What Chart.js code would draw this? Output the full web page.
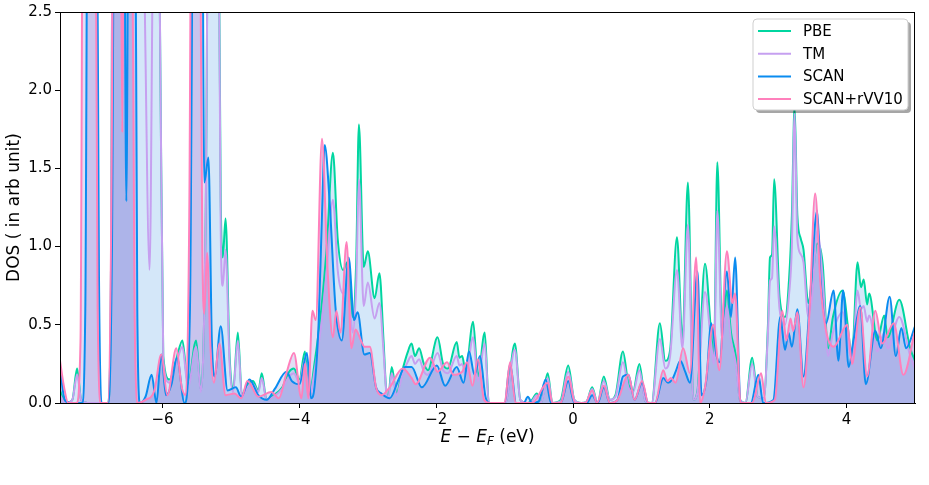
<!DOCTYPE html>
<html lang="en">
<head>
<meta charset="UTF-8">
<title>DOS comparison</title>
<script src="https://cdn.jsdelivr.net/npm/chart.js"></script>
<style>
  html, body { margin: 0; padding: 0; background: #fff; }
  #wrap { position: relative; width: 929px; height: 485px; }
</style>
</head>
<body>
<div id="wrap"><canvas id="dosChart"></canvas></div>
<script>
// [E - E_F (eV), DOS]
const pbe = [[-7.5,0.08],[-7.42,0],[-7.32,0.02],[-7.25,0.22],[-7.19,0.02],[-7.1,0],[-6.8,0],[-6.76,0.5],[-6.72,4],[-6.55,4],[-6.4,4],[-6.25,4],[-6.1,4],[-6.04,2.5],[-5.99,0.3],[-5.9,0.15],[-5.8,0.28],[-5.71,0.4],[-5.63,0.12],[-5.51,0.4],[-5.44,0.08],[-5.37,1.2],[-5.32,4],[-5.2,4],[-5.15,1.3],[-5.12,0.93],[-5.08,1.18],[-5.02,0.3],[-4.97,0.08],[-4.9,0.45],[-4.84,0.05],[-4.76,0.12],[-4.68,0.14],[-4.6,0.08],[-4.55,0.19],[-4.48,0.02],[-4.38,0.05],[-4.25,0.1],[-4.15,0.2],[-4.08,0.22],[-4.0,0.15],[-3.92,0.33],[-3.86,0.04],[-3.78,0.25],[-3.68,0.6],[-3.6,1.0],[-3.51,1.6],[-3.44,1.05],[-3.36,0.85],[-3.3,0.9],[-3.22,0.55],[-3.17,0.9],[-3.13,1.78],[-3.06,0.87],[-3.0,0.97],[-2.9,0.67],[-2.83,0.83],[-2.77,0.4],[-2.73,0.08],[-2.7,0.04],[-2.65,0.23],[-2.58,0.06],[-2.5,0.2],[-2.42,0.32],[-2.36,0.38],[-2.31,0.3],[-2.25,0.35],[-2.18,0.25],[-2.12,0.21],[-1.98,0.42],[-1.9,0.25],[-1.83,0.22],[-1.7,0.39],[-1.66,0.29],[-1.62,0.3],[-1.57,0.2],[-1.46,0.52],[-1.39,0.17],[-1.29,0.45],[-1.23,0],[-0.99,0],[-0.85,0.38],[-0.77,0.02],[-0.66,0],[-0.6,0.02],[-0.53,0.06],[-0.47,0],[-0.37,0.19],[-0.3,0],[-0.18,0.02],[-0.07,0.24],[0.02,0.02],[0.12,0],[0.2,0.01],[0.28,0.1],[0.36,0],[0.45,0.17],[0.54,0.02],[0.62,0.05],[0.73,0.33],[0.81,0.12],[0.88,0.08],[0.97,0.25],[1.06,0.01],[1.15,0],[1.27,0.51],[1.35,0.27],[1.42,0.34],[1.52,1.06],[1.6,0.4],[1.68,1.41],[1.76,0.02],[1.82,0.08],[1.93,0.89],[2.02,0.45],[2.06,0.3],[2.11,1.54],[2.18,0.45],[2.25,0.72],[2.31,0.45],[2.38,0.3],[2.44,0.02],[2.52,0],[2.62,0.29],[2.7,0.04],[2.79,0.03],[2.85,0.5],[2.88,0.93],[2.91,0.95],[2.94,1.43],[3.02,0.68],[3.1,0.55],[3.16,0.8],[3.2,1.2],[3.24,1.9],[3.28,1.2],[3.33,1.05],[3.37,0.98],[3.44,0.64],[3.5,0.8],[3.57,1.02],[3.65,0.89],[3.73,0.35],[3.8,0.55],[3.94,0.72],[4.08,0.32],[4.16,0.9],[4.21,0.74],[4.25,0.79],[4.3,0.63],[4.33,0.7],[4.45,0.4],[4.55,0.56],[4.6,0.42],[4.77,0.66],[4.93,0.35],[5.0,0.27]];

const tm = [[-7.5,0.05],[-7.42,0],[-7.32,0.02],[-7.25,0.18],[-7.19,0.02],[-7.1,0],[-6.8,0],[-6.76,0.5],[-6.72,4],[-6.55,4],[-6.4,4],[-6.28,3],[-6.19,0.85],[-6.14,3],[-6.1,4],[-6.04,2.5],[-5.99,0.27],[-5.9,0.13],[-5.8,0.25],[-5.71,0.36],[-5.63,0.1],[-5.51,0.36],[-5.44,0.07],[-5.37,1.2],[-5.32,4],[-5.2,4],[-5.15,1.1],[-5.12,0.75],[-5.08,0.98],[-5.02,0.25],[-4.97,0.07],[-4.9,0.4],[-4.84,0.04],[-4.76,0.1],[-4.68,0.12],[-4.6,0.07],[-4.55,0.16],[-4.48,0.02],[-4.38,0.04],[-4.25,0.09],[-4.15,0.17],[-4.08,0.19],[-4.0,0.13],[-3.92,0.28],[-3.86,0.03],[-3.78,0.2],[-3.68,0.5],[-3.6,0.85],[-3.51,1.3],[-3.44,0.85],[-3.36,0.7],[-3.3,0.75],[-3.22,0.45],[-3.17,0.75],[-3.13,1.43],[-3.06,0.62],[-3.0,0.77],[-2.9,0.54],[-2.83,0.64],[-2.77,0.33],[-2.73,0.07],[-2.7,0.03],[-2.65,0.19],[-2.58,0.05],[-2.5,0.17],[-2.42,0.26],[-2.36,0.3],[-2.31,0.25],[-2.25,0.28],[-2.18,0.2],[-2.12,0.18],[-1.98,0.32],[-1.9,0.21],[-1.83,0.19],[-1.7,0.3],[-1.66,0.24],[-1.62,0.25],[-1.57,0.17],[-1.46,0.42],[-1.39,0.14],[-1.29,0.38],[-1.23,0],[-0.99,0],[-0.85,0.34],[-0.77,0.02],[-0.66,0],[-0.6,0.01],[-0.53,0.05],[-0.47,0],[-0.37,0.16],[-0.3,0],[-0.18,0.01],[-0.07,0.2],[0.02,0.02],[0.12,0],[0.2,0.01],[0.28,0.09],[0.36,0],[0.45,0.14],[0.54,0.02],[0.62,0.04],[0.73,0.26],[0.81,0.1],[0.88,0.07],[0.97,0.21],[1.06,0.01],[1.15,0],[1.27,0.41],[1.35,0.22],[1.42,0.3],[1.52,0.85],[1.6,0.35],[1.68,1.14],[1.76,0.02],[1.82,0.07],[1.93,0.71],[2.02,0.38],[2.06,0.25],[2.11,1.23],[2.18,0.4],[2.25,0.62],[2.31,0.4],[2.38,0.25],[2.44,0.02],[2.52,0],[2.62,0.25],[2.7,0.04],[2.79,0.03],[2.85,0.45],[2.88,0.78],[2.91,0.8],[2.94,1.13],[3.02,0.6],[3.1,0.5],[3.16,0.7],[3.2,1.0],[3.24,1.85],[3.28,1.05],[3.33,0.95],[3.37,0.9],[3.44,0.55],[3.5,0.7],[3.57,1.1],[3.65,0.8],[3.73,0.3],[3.8,0.45],[3.94,0.58],[4.08,0.27],[4.16,0.72],[4.21,0.6],[4.25,0.62],[4.3,0.52],[4.33,0.56],[4.45,0.33],[4.55,0.45],[4.6,0.35],[4.77,0.55],[4.93,0.3],[5.0,0.22]];

const scan = [[-7.5,0.22],[-7.43,0.02],[-7.35,0],[-7.18,0],[-7.13,0.6],[-7.09,4],[-6.97,4],[-6.93,0.8],[-6.88,0],[-6.8,0],[-6.74,1],[-6.7,4],[-6.57,4],[-6.53,1.29],[-6.49,4],[-6.41,4],[-6.37,0.6],[-6.33,0],[-6.25,0.04],[-6.16,0.18],[-6.09,0],[-6.02,0.31],[-5.95,0.05],[-5.87,0.12],[-5.79,0.29],[-5.68,0],[-5.6,0.6],[-5.54,4],[-5.43,4],[-5.39,1.41],[-5.33,1.57],[-5.28,0.4],[-5.24,0.17],[-5.15,0.49],[-5.05,0.08],[-4.93,0.1],[-4.85,0.04],[-4.73,0.15],[-4.6,0.05],[-4.48,0.02],[-4.36,0.09],[-4.19,0.2],[-4.11,0.14],[-4.0,0.12],[-3.89,0.32],[-3.83,0.03],[-3.78,0.1],[-3.72,0.5],[-3.67,1.2],[-3.63,1.65],[-3.56,1.3],[-3.47,0.6],[-3.38,0.4],[-3.28,0.93],[-3.2,0.53],[-3.15,0.58],[-3.05,0.31],[-2.97,0.32],[-2.88,0.1],[-2.8,0.06],[-2.68,0.03],[-2.55,0.15],[-2.46,0.23],[-2.36,0.23],[-2.21,0.1],[-1.99,0.24],[-1.87,0.11],[-1.7,0.23],[-1.6,0.13],[-1.52,0.33],[-1.44,0.18],[-1.36,0.3],[-1.28,0.04],[-1.22,0],[-1.0,0],[-0.92,0.25],[-0.83,0],[-0.72,0],[-0.66,0.04],[-0.6,0],[-0.5,0.01],[-0.4,0.15],[-0.32,0],[-0.18,0],[-0.07,0.14],[0.02,0],[0.2,0],[0.28,0.05],[0.36,0],[0.45,0.1],[0.54,0],[0.65,0.02],[0.73,0.17],[0.81,0.18],[0.9,0.02],[1.01,0.13],[1.1,0],[1.2,0],[1.32,0.16],[1.39,0.13],[1.45,0.15],[1.5,0.2],[1.57,0.27],[1.64,0.2],[1.71,0.13],[1.82,0.84],[1.88,0.05],[1.95,0.15],[2.02,0.51],[2.1,0.3],[2.14,0.26],[2.25,0.84],[2.31,0.55],[2.37,0.93],[2.45,0],[2.6,0],[2.71,0.18],[2.78,0],[2.93,0.02],[3.03,0.55],[3.1,0.34],[3.15,0.45],[3.2,0.36],[3.28,0.6],[3.37,0.17],[3.47,0.7],[3.57,1.23],[3.62,0.8],[3.7,0.51],[3.81,0.72],[3.88,0.27],[3.95,0.72],[4.03,0.23],[4.1,0.4],[4.2,0.62],[4.28,0.12],[4.42,0.46],[4.5,0.35],[4.63,0.68],[4.72,0.3],[4.8,0.48],[4.87,0.35],[5.0,0.49]];

const scanVdw = [[-7.5,0.27],[-7.44,0.1],[-7.38,0],[-7.26,0],[-7.2,0.4],[-7.16,4],[-6.99,4],[-6.95,0.6],[-6.9,0],[-6.8,0],[-6.75,1.2],[-6.71,4],[-6.62,4],[-6.59,1.73],[-6.56,4],[-6.46,4],[-6.41,0.6],[-6.36,0],[-6.25,0.02],[-6.12,0.08],[-6.02,0.31],[-5.93,0.05],[-5.8,0.35],[-5.72,0.1],[-5.66,0.05],[-5.61,1.2],[-5.57,4],[-5.47,4],[-5.42,1.0],[-5.39,0.57],[-5.35,0.96],[-5.3,0.35],[-5.25,0.13],[-5.17,0.38],[-5.08,0.05],[-4.95,0.06],[-4.85,0.03],[-4.76,0.14],[-4.6,0.04],[-4.41,0.07],[-4.3,0.03],[-4.19,0.19],[-4.08,0.32],[-3.97,0.03],[-3.92,0.25],[-3.87,0.03],[-3.81,0.59],[-3.76,0.53],[-3.67,1.69],[-3.59,0.87],[-3.51,0.42],[-3.46,0.59],[-3.4,0.45],[-3.31,1.03],[-3.24,0.35],[-3.18,0.47],[-3.1,0.4],[-3.05,0.36],[-2.97,0.36],[-2.88,0.1],[-2.8,0.05],[-2.68,0.1],[-2.49,0.22],[-2.36,0.16],[-2.3,0.12],[-2.09,0.29],[-1.98,0.2],[-1.84,0.26],[-1.75,0.18],[-1.62,0.2],[-1.55,0.26],[-1.47,0.11],[-1.39,0.28],[-1.3,0.02],[-1.22,0],[-1.0,0],[-0.92,0.26],[-0.84,0],[-0.6,0],[-0.37,0.13],[-0.3,0],[-0.18,0],[-0.07,0.17],[0.03,0],[0.18,0],[0.28,0.08],[0.35,0],[0.45,0.11],[0.54,0],[0.65,0.02],[0.81,0.18],[0.9,0.02],[1.01,0.14],[1.1,0],[1.2,0],[1.32,0.21],[1.38,0.14],[1.43,0.16],[1.5,0.13],[1.61,0.35],[1.71,0.19],[1.8,0.93],[1.86,0],[1.93,0.1],[2.05,0.5],[2.14,0.21],[2.25,0.97],[2.33,0.64],[2.37,0.7],[2.45,0],[2.62,0],[2.75,0.19],[2.82,0],[2.95,0.02],[3.06,0.59],[3.12,0.4],[3.18,0.54],[3.22,0.46],[3.28,0.58],[3.37,0.1],[3.46,0.6],[3.54,1.34],[3.62,0.75],[3.7,0.46],[3.81,0.36],[4.01,0.5],[4.08,0.25],[4.2,0.61],[4.3,0.17],[4.42,0.59],[4.52,0.38],[4.69,0.51],[4.83,0.18],[5.0,0.46]];

const seriesNames = ['PBE', 'TM', 'SCAN', 'SCAN+rVV10'];
const xTicks = [-6, -4, -2, 0, 2, 4];
const yTicks = [0, 0.5, 1.0, 1.5, 2.0, 2.5];

const lineColors = ['rgb(0,214,160)', 'rgb(198,160,240)', 'rgb(10,140,240)', 'rgb(255,128,188)'];
const FONT = '"DejaVu Sans", "Liberation Sans", sans-serif';

Chart.defaults.font.family = FONT;
Chart.defaults.color = '#000';

function toPoints(arr) {
    return arr.map(p => ({x: p[0], y: p[1]}));
}

function makeDataset(i, arr, fillColor, order) {
    return {
        label: seriesNames[i],
        data: toPoints(arr),
        borderColor: lineColors[i],
        borderWidth: 2,
        pointRadius: 0,
        cubicInterpolationMode: 'monotone',
        fill: fillColor ? 'origin' : false,
        backgroundColor: fillColor || 'transparent',
        order: order
    };
}

// spines, x label with math italics, matplotlib style legend
const decorations = {
    id: 'decorations',
    afterDatasetsDraw(chart) {
        const {ctx, chartArea: a} = chart;
        ctx.save();
        ctx.strokeStyle = '#000';
        ctx.lineWidth = 1;
        ctx.strokeRect(Math.round(a.left) + 0.5, Math.round(a.top) + 0.5,
            Math.round(a.right - a.left) - 1, Math.round(a.bottom - a.top));
        ctx.restore();
    },
    afterDraw(chart) {
        const {ctx, chartArea: a} = chart;
        ctx.save();

        // x axis title: E - E_F (eV)
        const size = 17;
        const parts = [
            {t: 'E', f: `italic ${size}px ${FONT}`, dy: 0},
            {t: ' \u2212 ', f: `${size}px ${FONT}`, dy: 0},
            {t: 'E', f: `italic ${size}px ${FONT}`, dy: 0},
            {t: 'F', f: `italic ${Math.round(size * 0.7)}px ${FONT}`, dy: 4},
            {t: ' (eV)', f: `${size}px ${FONT}`, dy: 0}
        ];
        let total = 0;
        parts.forEach(p => { ctx.font = p.f; p.w = ctx.measureText(p.t).width; total += p.w; });
        let x = (a.left + a.right) / 2 - total / 2;
        const y = a.bottom + 35;
        ctx.fillStyle = '#000';
        ctx.textBaseline = 'middle';
        ctx.textAlign = 'left';
        parts.forEach(p => { ctx.font = p.f; ctx.fillText(p.t, x, y + p.dy); x += p.w; });

        // legend box
        const bw = 155, bh = 91;
        const bx = a.right - 7 - bw, by = a.top + 7;
        const r = 4;
        function box(x0, y0) {
            ctx.beginPath();
            ctx.moveTo(x0 + r, y0);
            ctx.arcTo(x0 + bw, y0, x0 + bw, y0 + bh, r);
            ctx.arcTo(x0 + bw, y0 + bh, x0, y0 + bh, r);
            ctx.arcTo(x0, y0 + bh, x0, y0, r);
            ctx.arcTo(x0, y0, x0 + bw, y0, r);
            ctx.closePath();
        }
        box(bx + 3, by + 3);
        ctx.fillStyle = 'rgba(0,0,0,0.35)';
        ctx.fill();
        box(bx, by);
        ctx.fillStyle = '#fff';
        ctx.fill();
        ctx.strokeStyle = '#cfcfcf';
        ctx.lineWidth = 1;
        ctx.stroke();

        ctx.font = `15px ${FONT}`;
        ctx.textBaseline = 'middle';
        seriesNames.forEach((name, i) => {
            const ry = by + 12 + i * 22.7;
            ctx.strokeStyle = lineColors[i];
            ctx.lineWidth = 2;
            ctx.beginPath();
            ctx.moveTo(bx + 5, ry);
            ctx.lineTo(bx + 38, ry);
            ctx.stroke();
            ctx.fillStyle = '#000';
            ctx.fillText(name, bx + 50, ry + 1);
        });
        ctx.restore();
    }
};

const ctx = document.getElementById('dosChart').getContext('2d');
const dosChart = new Chart(ctx, {
    type: 'line',
    data: {
        datasets: [
            makeDataset(0, pbe, 'rgba(0,110,220,0.17)', 3),
            makeDataset(1, tm, null, 2),
            makeDataset(2, scan, 'rgba(106,90,205,0.2)', 1),
            makeDataset(3, scanVdw, 'rgba(106,90,205,0.2)', 0)
        ]
    },
    options: {
        responsive: true,
        maintainAspectRatio: false,
        animation: false,
        devicePixelRatio: 1,
        layout: { padding: { top: 12, right: 14, left: 0, bottom: 0 } },
        plugins: {
            legend: { display: false },
            tooltip: { enabled: false },
            filler: { drawTime: 'beforeDatasetsDraw' }
        },
        scales: {
            x: {
                type: 'linear',
                min: -7.5,
                max: 5,
                afterBuildTicks: s => { s.ticks = xTicks.map(v => ({value: v})); },
                afterFit: s => { s.height = 82; },
                ticks: {
                    font: { size: 15 },
                    color: '#000',
                    padding: 3,
                    maxRotation: 0,
                    autoSkip: false,
                    callback: v => (v < 0 ? '\u2212' + Math.abs(v) : String(v))
                },
                grid: { drawOnChartArea: false, color: '#000', tickLength: 5 },
                border: { color: '#000', width: 1 }
            },
            y: {
                min: 0,
                max: 2.5,
                afterBuildTicks: s => { s.ticks = yTicks.map(v => ({value: v})); },
                afterFit: s => { s.width = 60; },
                ticks: {
                    font: { size: 15 },
                    color: '#000',
                    padding: 3,
                    callback: v => Number(v).toFixed(1)
                },
                grid: { drawOnChartArea: false, color: '#000', tickLength: 5 },
                border: { color: '#000', width: 1 },
                title: {
                    display: true,
                    text: 'DOS ( in arb unit)',
                    font: { size: 17 },
                    color: '#000',
                    padding: { top: 4, bottom: 0 }
                }
            }
        }
    },
    plugins: [decorations]
});
</script>
</body>
</html>
